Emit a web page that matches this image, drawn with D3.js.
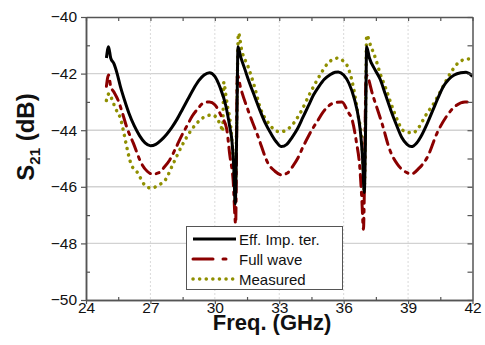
<!DOCTYPE html>
<html>
<head>
<meta charset="utf-8">
<script src="https://cdn.jsdelivr.net/npm/d3@7"></script>
<style>
  body { margin: 0; background: #fff; }
  text { font-family: "Liberation Sans", Arial, sans-serif; fill: #111; }
</style>
</head>
<body>
<script>
var width = 485,
    height = 345;

// values (GHz, dB)
var effFreq = [24.95, 25.05, 25.15, 25.3, 25.45, 25.6, 25.8, 26.0, 26.25, 26.5, 26.75, 27.0, 27.25, 27.5, 27.75, 28.0, 28.25, 28.5, 28.75, 29.0, 29.25, 29.5, 29.75, 30.0, 30.25, 30.5, 30.7, 30.8, 30.88, 30.95, 31.02, 31.08, 31.2, 31.4, 31.6, 31.85, 32.1, 32.35, 32.6, 32.85, 33.1, 33.35, 33.6, 33.85, 34.1, 34.35, 34.6, 34.85, 35.1, 35.35, 35.6, 35.75, 36.0, 36.25, 36.5, 36.7, 36.8, 36.88, 36.96, 37.02, 37.07, 37.2, 37.45, 37.7, 37.95, 38.2, 38.45, 38.7, 38.95, 39.15, 39.4, 39.65, 39.9, 40.15, 40.4, 40.65, 40.9, 41.15, 41.45, 41.7, 41.85, 42.0];
var effS21 = [-41.45, -41.05, -41.45, -41.65, -42.0, -42.45, -42.95, -43.4, -43.85, -44.2, -44.45, -44.55, -44.5, -44.35, -44.15, -43.9, -43.6, -43.25, -42.9, -42.55, -42.25, -42.05, -41.97, -42.1, -42.5, -43.1, -43.9, -44.4, -45.3, -46.6, -44.0, -41.05, -41.4, -41.85, -42.3, -42.8, -43.3, -43.75, -44.1, -44.4, -44.58, -44.5, -44.25, -43.95, -43.55, -43.15, -42.75, -42.45, -42.2, -42.05, -41.95, -41.94, -42.05, -42.35, -42.9, -43.6, -44.2, -45.0, -46.2, -44.0, -41.05, -41.45, -41.85, -42.2, -42.75, -43.3, -43.8, -44.25, -44.5, -44.58, -44.45, -44.15, -43.75, -43.3, -42.85, -42.45, -42.2, -42.05, -41.97, -41.95, -42.0, -42.1];

var fwFreq = [24.95, 25.05, 25.15, 25.3, 25.5, 25.7, 25.9, 26.2, 26.6, 26.85, 27.1, 27.4, 27.65, 27.9, 28.2, 28.45, 28.7, 28.95, 29.2, 29.45, 29.75, 30.0, 30.3, 30.55, 30.7, 30.85, 30.97, 31.05, 31.2, 31.55, 32.0, 32.5, 32.8, 33.1, 33.4, 33.65, 33.87, 34.1, 34.34, 34.55, 34.76, 35.04, 35.5, 35.92, 36.2, 36.4, 36.6, 36.75, 36.85, 36.92, 37.05, 37.37, 37.8, 38.15, 38.5, 38.95, 39.15, 39.5, 39.9, 40.35, 40.8, 41.2, 41.65, 42.0];
var fwS21 = [-42.45, -42.05, -42.45, -42.65, -42.95, -43.4, -43.9, -44.45, -45.2, -45.45, -45.55, -45.5, -45.3, -45.05, -44.6, -44.2, -43.85, -43.5, -43.25, -43.05, -43.0, -43.1, -43.5, -43.95, -44.9, -45.75, -47.3, -42.05, -42.5, -43.3, -44.2, -45.2, -45.45, -45.58, -45.5, -45.25, -44.98, -44.6, -44.24, -43.95, -43.7, -43.36, -43.05, -43.0, -43.35, -43.65, -44.45, -45.3, -46.5, -47.5, -42.05, -42.8, -43.8, -44.7, -45.2, -45.5, -45.55, -45.35, -44.95, -44.1, -43.5, -43.15, -43.0, -43.0];

var measFreq = [24.95, 25.08, 25.25, 25.45, 25.6, 25.75, 25.9, 26.1, 26.4, 26.75, 27.05, 27.35, 27.7, 28.05, 28.5, 28.9, 29.3, 29.6, 29.9, 30.15, 30.3, 30.36, 30.42, 30.5, 30.6, 30.7, 30.8, 30.88, 30.95, 31.02, 31.1, 31.25, 31.55, 31.85, 32.1, 32.5, 32.8, 33.03, 33.5, 33.97, 34.43, 34.9, 35.27, 35.6, 35.74, 36.0, 36.15, 36.3, 36.37, 36.53, 36.68, 36.84, 36.9, 36.93, 36.96, 37.02, 37.07, 37.25, 37.5, 37.7, 37.95, 38.2, 38.5, 38.75, 38.95, 39.2, 39.5, 39.8, 40.2, 40.6, 41.0, 41.4, 41.8, 42.0];
var measS21 = [-42.95, -42.7, -43.0, -43.35, -43.57, -44.05, -44.6, -45.2, -45.5, -45.95, -46.05, -45.95, -45.75, -45.2, -44.5, -44.0, -43.65, -43.5, -43.46, -43.65, -43.9, -44.05, -42.3, -42.7, -43.2, -43.6, -44.4, -45.3, -46.5, -43.5, -40.57, -41.17, -41.76, -42.47, -43.18, -43.75, -44.0, -44.06, -43.9, -43.4, -42.7, -42.05, -41.63, -41.47, -41.45, -41.57, -41.7, -42.0, -42.2, -42.8, -43.5, -44.35, -45.3, -46.0, -46.1, -43.5, -40.64, -41.0, -41.5, -42.0, -42.5, -43.05, -43.64, -44.0, -44.06, -44.1, -43.9, -43.5, -43.05, -42.5, -41.95, -41.58, -41.48, -41.57];

var xTicks = [24, 27, 30, 33, 36, 39, 42];
var xMinor = [25.5, 28.5, 31.5, 34.5, 37.5, 40.5];
var yTicks = [-50, -48, -46, -44, -42, -40];
var yMinor = [-49, -47, -45, -43, -41];
var legendNames = ["Eff. Imp. ter.", "Full wave", "Measured"];

var pL = 86, pR = 472.5, pT = 17, pB = 300;

var svg = d3.select('body')
  .append('svg')
  .attr('width', width)
  .attr('height', height);

var x = d3.scaleLinear().domain([24, 42]).range([pL, pR]);
var y = d3.scaleLinear().domain([-50, -40]).range([pB, pT]);

// grid
svg.append('g').selectAll('line')
  .data(yTicks.slice(1, -1))
  .enter().append('line')
  .attr('x1', pL).attr('x2', pR)
  .attr('y1', d => y(d)).attr('y2', d => y(d))
  .attr('stroke', '#d2d2d2')
  .attr('stroke-width', 1.4);

svg.append('g').selectAll('line')
  .data(xTicks.slice(1, -1))
  .enter().append('line')
  .attr('x1', d => x(d)).attr('x2', d => x(d))
  .attr('y1', pT).attr('y2', pB)
  .attr('stroke', '#dadada')
  .attr('stroke-dasharray', '2,2');

// curves
svg.append('clipPath').attr('id', 'clip')
  .append('rect')
  .attr('x', pL).attr('y', pT)
  .attr('width', pR - pL).attr('height', pB - pT);

var line = d3.line()
  .x(d => x(d[0]))
  .y(d => y(d[1]))
  .curve(d3.curveMonotoneX);

var series = [
  { f: effFreq, v: effS21, color: '#000000', dash: null, cap: 'butt', w: 3 },
  { f: fwFreq, v: fwS21, color: '#8b0000', dash: '12,6,3,6', cap: 'round', w: 3 },
  { f: measFreq, v: measS21, color: '#8f8f00', dash: '0.1,6.5', cap: 'round', w: 3.5 }
];

var curves = svg.append('g').attr('clip-path', 'url(#clip)');
// measured first, then full wave, black on top
[2, 1, 0].forEach(function(i) {
  var s = series[i];
  curves.append('path')
    .datum(d3.zip(s.f, s.v))
    .attr('d', line)
    .attr('fill', 'none')
    .attr('stroke', s.color)
    .attr('stroke-width', s.w)
    .attr('stroke-linecap', s.cap)
    .attr('stroke-linejoin', 'round')
    .attr('stroke-dasharray', s.dash);
});

// axes
var axisColor = '#555';
svg.append('g')
  .attr('transform', 'translate(0,' + pB + ')')
  .call(d3.axisBottom(x).tickValues(xTicks).tickSize(4).tickSizeOuter(0).tickPadding(-2));
svg.append('g')
  .attr('transform', 'translate(' + pL + ',0)')
  .call(d3.axisLeft(y).tickValues(yTicks).tickSize(5).tickSizeOuter(0).tickPadding(4));
svg.append('g')
  .attr('transform', 'translate(0,' + pT + ')')
  .call(d3.axisTop(x).tickValues(xTicks.concat(xMinor)).tickSize(-4).tickSizeOuter(0).tickFormat(''));
svg.append('g')
  .attr('transform', 'translate(' + pR + ',0)')
  .call(d3.axisRight(y).tickValues(yTicks.concat(yMinor)).tickSize(-5).tickSizeOuter(0).tickFormat(''));
// minor ticks inside on bottom/left
svg.append('g')
  .attr('transform', 'translate(0,' + pB + ')')
  .call(d3.axisBottom(x).tickValues(xMinor).tickSize(-3).tickSizeOuter(0).tickFormat(''));
svg.append('g')
  .attr('transform', 'translate(' + pL + ',0)')
  .call(d3.axisLeft(y).tickValues(yMinor).tickSize(-4).tickSizeOuter(0).tickFormat(''));

svg.selectAll('.domain').attr('stroke', axisColor).attr('stroke-width', 1.5);
svg.selectAll('.tick line').attr('stroke', axisColor).attr('stroke-width', 1.2);
svg.selectAll('.tick text')
  .style('font-size', '15.5px')
  .style('font-family', '"Liberation Sans", Arial, sans-serif')
  .attr('fill', '#111');

// titles
svg.append('text')
  .attr('x', 272).attr('y', 330)
  .attr('text-anchor', 'middle')
  .style('font-size', '22px')
  .style('font-weight', 'bold')
  .text('Freq. (GHz)');

var yt = svg.append('text')
  .attr('transform', 'translate(34,137) rotate(-90)')
  .attr('text-anchor', 'middle')
  .style('font-size', '24px')
  .style('font-weight', 'bold');
yt.append('tspan').text('S');
yt.append('tspan').attr('dy', 6).style('font-size', '15px').text('21');
yt.append('tspan').attr('dy', -6).text('\u00a0(dB)');

// legend
var lg = svg.append('g');
lg.append('rect')
  .attr('x', 186.5).attr('y', 226.5)
  .attr('width', 156).attr('height', 63)
  .attr('fill', '#fff')
  .attr('stroke', '#555')
  .attr('stroke-width', 1);

var legendY = [239, 259, 279];
legendNames.forEach(function(name, i) {
  var s = series[i];
  lg.append('line')
    .attr('x1', 193).attr('x2', 236)
    .attr('y1', legendY[i]).attr('y2', legendY[i])
    .attr('stroke', s.color)
    .attr('stroke-width', s.w)
    .attr('stroke-linecap', s.cap)
    .attr('stroke-dasharray', i === 1 ? '20,10,3,10' : s.dash);
  lg.append('text')
    .attr('x', 239).attr('y', legendY[i] + 5.5)
    .style('font-size', '15px')
    .text(name);
});
</script>
</body>
</html>
